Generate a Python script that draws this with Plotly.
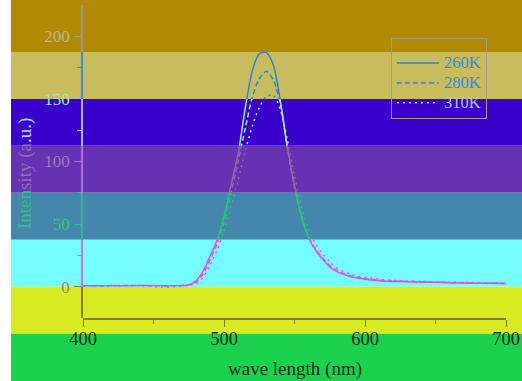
import plotly.graph_objects as go

# ---------------- data ----------------
wavelength = [400, 410, 420, 430, 440, 450, 460, 465, 470, 475, 480, 485, 490, 495,
              500, 505, 510, 515, 520, 525, 530, 535, 540, 545, 550, 555, 560, 565,
              570, 575, 580, 585, 590, 595, 600, 610, 620, 630, 640, 650, 660, 670,
              680, 690, 700]
int_260K = [0.8, 0.7, 0.9, 0.8, 0.9, 1.0, 0.7, 0.8, 0.9, 1.5, 4.5, 12, 24, 37,
            56, 81, 106, 142, 172, 186, 187, 177, 148, 111, 81, 56, 39, 29,
            22, 16, 12, 10, 8, 7, 6, 4.8, 4.2, 4.0, 3.7, 3.5, 3.2, 3.0,
            2.8, 2.7, 2.5]
int_280K = [0.7, 0.8, 0.8, 1.0, 0.9, 0.8, 0.6, 0.8, 0.9, 1.3, 3.5, 10, 21, 34,
            51, 75, 100, 126, 151, 166, 172, 165, 146, 110, 79, 56, 40, 30,
            23, 17, 13, 10.5, 8.5, 7.5, 6.5, 5.2, 4.5, 4.2, 3.8, 3.6, 3.3, 3.1,
            2.9, 2.8, 2.6]
int_310K = [0.6, 0.7, 0.6, 0.9, 0.8, 0.2, -0.3, 0.2, 0.6, 1.0, 2.5, 7, 17, 29,
            44, 64, 85, 108, 128, 143, 152, 153, 141, 117, 88, 63, 45, 34,
            26, 20, 15, 12, 10, 8.5, 7.5, 6.0, 5.0, 4.6, 4.2, 3.9, 3.6, 3.4,
            3.2, 3.0, 2.8]
series_names = ["260K", "280K", "310K"]

x_ticks = [400, 500, 600, 700]
x_minor = [450, 550, 650]

# ---------------- styling ----------------
FONT = "Liberation Serif"
Y_MIN, Y_MAX = -25, 225
X_MIN, X_MAX = 400, 700


def py(v):
    return (v - Y_MIN) / (Y_MAX - Y_MIN)


# background colour bands (data-value edges)
bg_bands = [
    (187.5, 240, "#B08A04"),
    (150, 187.5, "#C8BC5C"),
    (112.5, 150, "#3A00CC"),
    (75, 112.5, "#6632B4"),
    (37.5, 75, "#4486AC"),
    (0, 37.5, "#74FEFE"),
    (-37.5, 0, "#D8EA22"),
    (-80, -37.5, "#1AD24E"),
]

# per-band styles inside the plot: lo, hi, line colour, axis colour,
# major ticks (value, label colour), minor ticks
plot_bands = [
    (187.5, 225, "#2A84DA", "#9C9A8A", [(200, "#C4B48C")], []),
    (150, 187.5, "#2A84DA", "#3C8CE0", [], [175]),
    (112.5, 150, "#A8EBB8", "#A8B8C8", [(150, "#9EE6C8")], [125]),
    (75, 112.5, "#9466A8", "#B070C8", [(100, "#9A7AB0")], []),
    (37.5, 75, "#2CC47C", "#2CB890", [(50, "#34C47E")], [75]),
    (0, 37.5, "#E050E0", "#D070D8", [], [25]),
    (-25, 0, "#D050D0", "#8A7A2A", [(0, "#A08A3A")], []),
]

dashes = {"260K": "solid", "280K": "5px,3px", "310K": "2px,4px"}
series = {"260K": int_260K, "280K": int_280K, "310K": int_310K}

fig = go.Figure()

layout_axes = {}
for i, (lo, hi, lcol, acol, majors, minors) in enumerate(plot_bands):
    ax_id = i + 2
    yname = f"y{ax_id}"
    for name in series_names:
        fig.add_trace(go.Scatter(
            x=wavelength, y=series[name], mode="lines",
            line=dict(color=lcol, width=1.5, dash=dashes[name], shape="spline",
                      smoothing=0.8),
            xaxis="x", yaxis=yname, showlegend=False, hoverinfo="skip"))
    layout_axes[f"yaxis{ax_id}"] = dict(
        domain=[py(lo), py(hi)], range=[lo, hi], anchor="x", automargin=False,
        showline=True, linecolor=acol, linewidth=1.5,
        showgrid=False, zeroline=False,
        ticks="outside", ticklen=7, tickwidth=1.2, tickcolor=acol,
        tickmode="array",
        tickvals=[m[0] for m in majors],
        ticktext=[f"<span style='color:{m[1]}'>{m[0]}</span>" for m in majors],
        tickfont=dict(family=FONT, size=17, color=acol),
        ticklabelstandoff=1,
        minor=dict(ticks="outside", ticklen=4, tickwidth=1.2, tickcolor=acol,
                   tickmode="array", tickvals=minors, showgrid=False),
    )

# legend-only traces
legend_style = [
    ("260K", "#2A84DA", "#2E8CE2"),
    ("280K", "#2A84DA", "#2E8CE2"),
    ("310K", "#B8D0E0", "#A8C8E8"),
]
for name, lc, tc in legend_style:
    fig.add_trace(go.Scatter(
        x=[None], y=[None], mode="lines",
        name=f"<span style='color:{tc};font-size:16.5px'>{name}</span>",
        line=dict(color=lc, width=1.5, dash=dashes[name]),
        xaxis="x", yaxis="y"))

shapes = []
for lo, hi, col in bg_bands:
    shapes.append(dict(type="rect", xref="paper", yref="paper",
                       x0=-0.1702, x1=1.05, y0=py(lo), y1=py(hi),
                       fillcolor=col, line=dict(width=0), layer="below"))

ytitle = ("<span style='color:#32C07C'>Inten</span>"
          "<span style='color:#8E6EAC'>sity (a</span>"
          "<span style='color:#A8E2C6'>.u.)</span>")

fig.update_layout(
    width=522, height=381,
    margin=dict(l=83, r=16, t=5, b=63, autoexpand=False),
    paper_bgcolor="white", plot_bgcolor="rgba(0,0,0,0)",
    font=dict(family=FONT, size=16),
    xaxis=dict(domain=[0, 1], range=[X_MIN, X_MAX], anchor="y", automargin=False,
               showline=True, linecolor="#8A7A2A", linewidth=1.5,
               showgrid=False, zeroline=False,
               ticks="outside", ticklen=7, tickwidth=1.2, tickcolor="#8A7A2A",
               tickmode="array", tickvals=x_ticks, ticklabelstandoff=-4,
               tickfont=dict(family=FONT, size=18.5, color="#1C2A1C"),
               minor=dict(ticks="outside", ticklen=4, tickwidth=1.2,
                          tickcolor="#8A7A2A", tickmode="array",
                          tickvals=x_minor, showgrid=False)),
    yaxis=dict(domain=[0, 1], range=[Y_MIN, Y_MAX], visible=False, automargin=False,
               showgrid=False, zeroline=False),
    shapes=shapes,
    showlegend=True,
    legend=dict(x=0.728, y=0.8946, xanchor="left", yanchor="top",
                bgcolor="rgba(0,0,0,0)", bordercolor="#A09C88", borderwidth=1,
                font=dict(family=FONT, size=13, color="#2E8CE2"),
                title=dict(text=" ", font=dict(size=7)),
                itemwidth=42, tracegroupgap=0),
    annotations=[
        dict(text="wave length (nm)", xref="paper", yref="paper",
             x=0.5, y=-0.163, xanchor="center", yanchor="middle",
             showarrow=False, font=dict(family=FONT, size=19, color="#1C2C1C")),
        dict(text=ytitle, xref="paper", yref="paper", textangle=-90,
             x=-0.137, y=0.46, xanchor="center", yanchor="middle",
             showarrow=False, font=dict(family=FONT, size=19)),
    ],
    **layout_axes,
)

fig.write_html(
    "out.html",
    config={"displayModeBar": False},
    post_script="document.body.style.margin='0';document.body.style.overflow='hidden';",
)
